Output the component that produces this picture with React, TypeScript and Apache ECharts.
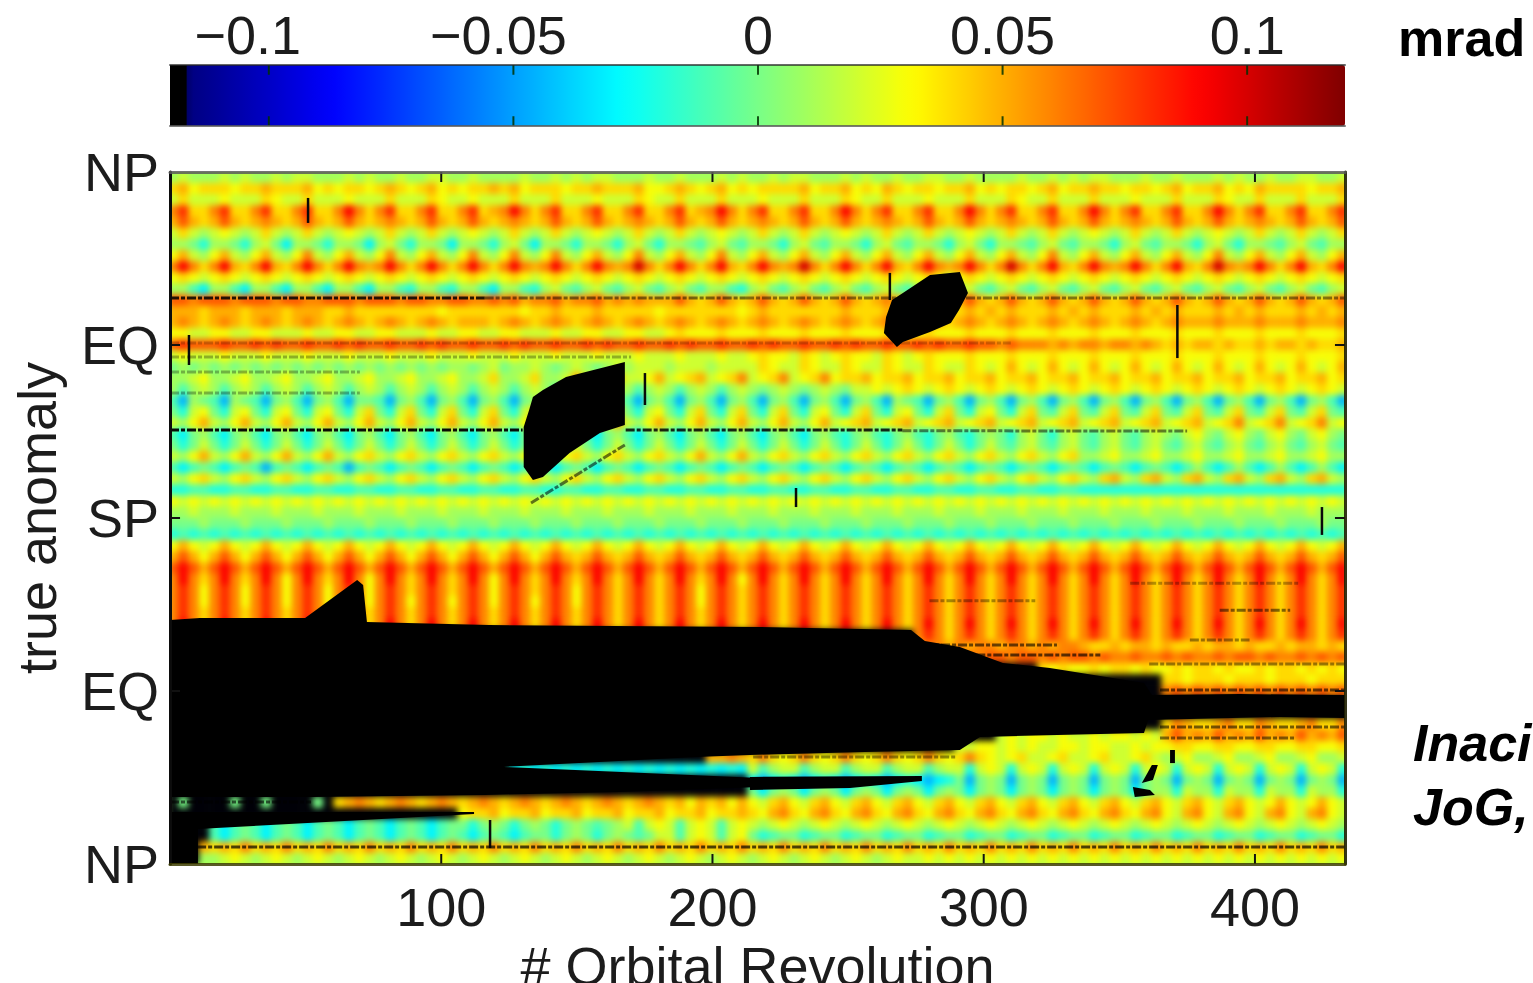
import React, { useEffect, useRef } from "react";
import * as echarts from "echarts";

const FONT = '"Liberation Sans", Arial, sans-serif';
const X_TICKS = [100, 200, 300, 400];
const Y_TICKS = [90, 180, 270];
const Y_LABELS = ["NP", "EQ", "SP", "EQ", "NP"];
const BAR_TICKS = [-0.1, -0.05, 0, 0.05, 0.1];
const BAR_LABELS = ["−0.1", "−0.05", "0", "0.05", "0.1"];
const BAR_UNDER = -0.1168;
const LEVELS: Record<string, number> = {
  ".": -0.12, b: -0.075, c: -0.045, d: -0.03, e: -0.02, f: -0.01, g: 0, h: 0.01, i: 0.02,
  j: 0.03, k: 0.04, l: 0.05, m: 0.06, n: 0.07, o: 0.08, p: 0.09, q: 0.1,
};

// Map: one string per latitude row (top to bottom), one letter per cell.
const ROWS = [
  "hihh hihi hhih iihh hihi hhih hiih hihh hhih hihi hiih hhih hihh hihi hhih iihh hihi hhih hiih hihh hhih hihi hiih hhih hihh hihi hhih hiih hi",
  "kljk kkjk klkk kljk jkkj klkj kljk jkkl kljk kkjk klkk kljj klkj kljk jkkk kljk kljk jlkj kkjk kljk jkkj kljk klkk jkkj kljk kljk jlkk kkjk kl",
  "ikii ijii ikji ikii ijii ikii ikji ijii ikii ikii ijii ikji ikii ikii ijii ikii ikji ikii ijii ikii ikji ikii ikii ijii ikii ikji ikii ikii ik",
  "mokk mokk mokk mokk mpmk mokk mokk mokl mpmk mokk mokk mokk mokl mpmk mokk mokk mpmk mokk mokk mpmk mokk mokk mpmk mokk mokk mpmk mokk mokk mo",
  "lnlk lnlk lmlk lnlk lnlk lmlk lnlk lnlk lmlk lnlk lnlk lmlk lnlk lnlk lmlk lnlk lnlk lmlk lnlk lnlk lmlk lnlk lnlk lmlk lnlk lnlk lmlk lnlk ln",
  "ikih ijih ikih ikih ijih ikih ikih ijih ikih ikih ijih ikih ikih ijih ikih ikih ijih ikih ikih ijih ikih ikih ijih ikih ikih ijih ikih ikih ik",
  "hhge hhge higd hhge hhgd hige hhgd hhge higd hhge hhge hige hhgf higf hhge higf hhge higf hhge hige hhgf higf hhge higf hhge hige hhgf higf hh",
  "jlih jlih jlih jmih jlih jmih jlih jmih jmih jmih jlih jmih jlih jmih jlih jlih jlih jlih jlih jlih jlih jmih jlih jlih jlih jmih jlih jlih jl",
  "mpmk mplk mplk mpmk mpml mpmk mpmk mpmk mpml mpmk mpml mqmk mpmk mplk mpml mqmk mpmk mplk mpml mpmk mqmk mplk mpml mpmk mplk mqml mpmk mplk mp",
  "jkji jkji jkji jkji jkji jkji jkji jkji jkji jkji jkji jkji jkji jkji jkji jkji jkji jkji jkji jkji jkji jkji jkji jkji jkji jkji jkji jkji jk",
  "hhfd hhfd hhfd hhfd hhfd hhfe hhfe hhfd hhfe higf higf higf higf hhfe higf higf higf higf higf higf higf higf higf higf higf higf higf higf hi",
  "nnmn nnmn nnmn nmmn nnmn nnmn nmmn nmmn mnlm mnlm mnlm lmll lnlk lnlk lnlk lnlk lnlk lmlk lnlk lnlk lnlk lnlk lnlk lnlk lnlk lnlk lnlk lnlk ln",
  "lllk lllk lllk lllk klkk kkkk kkjk kkkk kkjk klkk klkk kkkj kkkk kkkj klkk kkkk klkk klkk klkk klkl klkk klkl klkk klkl klkk klkl klkk klkl kl",
  "lmlk lmlk lmlk lmlk lmlk lmlk lmlk lllk lmlk lmlk lmlk lmlk lmlk lmlk lmlk lmlk lmlk lmlk lmlk lmlk lmlk lmlk lmlk lmlk lmll lmll lmll lmll lm",
  "jjii jjii jjii ijii jjii jjii ijii jjii jjii ijii jjii jjii jkjj jkjj jkjj jkjj jkjj jkjj jkjj jkjj jkjj jkjj jkjj jkjj jkjj jkjj jkjj jkjj jk",
  "nonn nonn onon nonn onon nonn onon nonn onon nonn onon nonn onon nonn onon nonn onon nonn onon nonn mnmm mlml mmlm mlml klkl lklk klkl lklk kl",
  "ijii ijii ijii ijii ijii ijii ijii ijii ijii ijii ijii ijii ijii ijii jkjj ikji jkjj ikji jkjj jkjj jkjj jkjj jkjj jkjj jkjj jkjj jkjj jkjj jk",
  "ghgh ghgh ghgh ghgh ghgh ghgh ghgh hghi ghhi hghi hghi hiii hiii hiii ikji ikji ikji ikji ikji ikji jlji jlji jlji jlji jlji jlji jlji jlji jl",
  "hhij hhij hhij hhij hhij hhij hhij hhik hhik hhil iijl iijl ijkl ijkm ijkm ijkm jkkl jkkl jkkl jkkl jkkl jkkl jkkl jkkl jkkl jkkl jkkl jkkl jk",
  "hfhi hfhi hfhi hfhi hfhi hfhi hfhi hfhi hfhi hfhi hfhi hfhi hfhi hfhi hghi hghi hgii jijk jijk jijk jijk jijk jijk jijk jijk jijk jijk jijk ji",
  "fchg fchg fcgh fcgh fcgg fcgh fcgh fcgh fcgh fchh fcgh fcgh fcgh fcgh fcgh fcgh fcgh fchg fcgh fcgh fcgh fcgh fcgh fcgh fcgh fcgh fcgh fcgh fc",
  "geij geij geij geij geik geik geik geik geik geik geik geij geik geik geik geij geik geij geik geij geik gfik gfik gfik gfik gfik gfik gfik gf",
  "ihjl ihjl ihjl ihjl ihjl ihjl ihjl ihjl ihjl ihjl ihjl ihjl ihjl ihjl ihjl ihjl ijkl ijkl ijkl ijkl ijkl ijkl ijkl ijkl ijkl ijkm ijkm ijkm ij",
  "fdgh fdgh fdgh fdgh fdgh fdgh fdgh fdgh fdgh fdgh fdgh fdgh fdgh fdgh fdgh fdgh fegh fegh fegh fegh gehi gehi gfhi gfhi hgij hgij hgij hgij hg",
  "gegi gegi gegi gegi gegi gegi gegi gegi gegi gegi gegi gegi gegi gegi gegi gegi gegi gegi gegi gegi gfhi gfhi gfhi gfhi gfhi gfhi gfhi gfhi gf",
  "ihjl ihjl ihjl ihjl ihjk ihjk ihjk ihjk ihjk ihjk ihjk ihjk ihjl ihjl ihjk ihjk ihjk ihjk ihjk ihjk ihjk ihjk hhij hhij hhij hhij hhij hhij hh",
  "fdfg fdfg fcfg fdfg fcfg fdfg fdfg fdfg fdfg fdfg fdfg fdfg fdfg fdfg fdfg fdfg fdfg fdfg fdfg fdfg fdfg fdfg fdfg fdfg fdfh fdfh fdfh fdfh fd",
  "ihjk ihjk ihjk ihjk ihjk ihjk ihjk ihjk ihjk ihjk ihjk ihjk ihjk ihjk ihjk ihjk ihjk ihjk ihjk ihjk ihjk ihjk ihkl ihkl ihkl ihkl ihkl ihkl ih",
  "eeff eeff eeff eeff eeff eeff eeff eeff eeff eeff eeff eeff eeff eeff eeff eeff eeff eeff eeff eeff eeff eeff eeee eeee eeee eeee eeee eeee ee",
  "jiji jiji jiji jiji jiji jiji jiji jiji jiji jiji jiji jiji jiji jiji jiji jiji jiji jiji jiji jiji jiji jiji jiji jiji jiji jiji jiji jiji ji",
  "hhih hhih hhih hhih hhih hhih hhih hhih hhih hhih hhih hhih hhih hhih hhih hhih hhih hhih hhih hhih hhih hhih hhih hhih hhih hhih hhih hhih hh",
  "gggh gggh gggh gggh gggh gggh gggh gggh gggh gggh gggh gggh gggh gggh gggh gggh gggh gggh gggh gggh gggh gggh gggh gggh gggh gggh gggh gggh gg",
  "efef efef efef efef efef efef efef efef efef efef efef efef efef efef efef efef efef efef efef efef efef efef efef efef efef efef efef efef ef",
  "jlji jlji jlji jlji jlji jlji jlji jlji jlji jlji jlji jlji jlji jlji jlji jlji jlji jlji jlji jlji jlji jlji jlji jlji jlji jlji jlji jlji jl",
  "lnlj lnlj lnlj lnlj lnlj lnlj lnlj lnlj lnlj lnlk lnlk lnlk lnlk lnlk lnlk lnlk lnlk lnlk lnlk lnlk lnlk lnlk lnlk lnlk lnlk lnlk lnlk lnlk ln",
  "npnl npnl npnl npnl npnl npnl npnl npnl npnl npnl npnl npnl npnl npnl npnl npnl npnl npnl npnl npnl npnl npnl npnl npnl npnl npnl npnl npnl np",
  "mpmk mpmk mpmj mpmk mpmj mpmk mpmk mpmj mpmk mpmk mpmk mpmk mpmk mpmj mpmk mpmk mpmk mpmk mpmk mpmk mpmk mpmk mpmk mpmk mpmk mpmk mpmk mpmk mp",
  "momj momj momj momj momj momk momk momj momk momj momk momk momj momk momk momk momk momk momk momk momk momk momk momk momk momk momk momk mo",
  "momj momj momj momj momj momj momj momj momj momj momk momk momj momk momk momk momk momk momk momk momk momk momk momk momk momk momk momk mo",
  "momk momk momk momk momk momk momk momk momk momk momk momk momk momk momk momk momk momk momk momk momk momk momk momk momk momk momk momk mo",
  "mpmk mpmk mpmk mpmk mpmk mpmk mpmk mpmk mpmk mpmk mpmk mpmk mpmk mpmk mpmk mpmk mpmk mpmk mpmk mpmk mpmk mpmk mpmk mpmk mpmk mpmk mpmk mpmk mp",
  ".... .... .... .... .... .... .... .... .... .... .... .... .... .... .... .... .... .... momk momk momk momk momk momk momk momk momk momk mo",
  ".... .... .... .... .... .... .... .... .... .... .... .... .... .... .... .... .... .... lmml mlmm lmml mlmm lkkl kllk lkkl kllk lkkl kllk lk",
  ".... .... .... .... .... .... .... .... .... .... .... .... .... .... .... .... .... .... .... mnmn nmnn mnmn nmnm mnmm nmnm mnmn nmnm mnmn mn",
  ".... .... .... .... .... .... .... .... .... .... .... .... .... .... .... .... .... .... .... .... .... kjkj jkjk kjkj jkjk kjkj jkjk kjkj kj",
  ".... .... .... .... .... .... .... .... .... .... .... .... .... .... .... .... .... .... .... .... .... .... .... .... kkjk kkjk kkjk kkjk kk",
  ".... .... .... .... .... .... .... .... .... .... .... .... .... .... .... .... .... .... .... .... .... .... .... .... mnmn mnmn mnmn mnmn mn",
  ".... .... .... .... .... .... .... .... .... .... .... .... .... .... .... .... .... .... .... .... .... .... .... .... .... .... .... .... ..",
  ".... .... .... .... .... .... .... .... .... .... .... .... .... .... .... .... .... .... .... .... .... .... .... .... .... .... .... .... ..",
  ".... .... .... .... .... .... .... .... .... .... .... .... .... .... .... .... .... .... .... .... .... .... .... .... kmlk klmk kmlk klmk km",
  ".... .... .... .... .... .... .... .... .... .... .... .... .... .... .... .... .... .... .... .... ijij jiji ijij jiji lnlm lnlm lnlm lnlm ln",
  ".... .... .... .... .... .... .... .... .... .... .... .... .... .... .... .... .... .... .... iijj ijij iijj ijji ijij jkkj jkkj jkkj jkkj jk",
  ".... .... .... .... .... .... .... .... .... .... .... .... .... llml kmkj kmkj kmkj kmkj kmkj kmkj ijki ijki ijki ijki hijh hijh hijh hijh hi",
  ".... .... .... .... .... .... .... .... eded eded eded eded eded eded ifhi ifhi ifhi ifhi ifhi ieij ieij ieij ieij ieij ieij ieij ieij ieij ie",
  ".... .... .... .... .... .... .... .... .... .... .... .... .... .... dcde dcde dcde dcde dcde gcgh gcgh gcgh gcgh gcgh gcgh gcgh gcgh gcgh gc",
  ".... .... .... .... .... .... .... .... .... .... .... .... .... .... gdgh gdgh gdgh gdgh gdgh gdgh gdgh gdgh gdgh gdgh heih heih heih heih he",
  ".g.. ..g. .g.. ..g. klml klml klml klml klml klml klml klml kljl kljl jikl jikl jikl jikl jikl jikl jikl jikl jikl jikl jikl jikl jijl jijl ji",
  ".... .... .... .... .... .... .... jkkl jkkl jkkl jkkl jkkl jkkl jkkl kjlm kjlm kjlm kjlm kjlm kjlm kjlm kjlm kjlm kjlm jilm jilm jilm jilm ji",
  ".... fdfg fdfg fdfg fdfg fdfg fdfg gegh gegh gegh gfgh ifij ifij ifij ihij ihij ihij ihij ihij ihij ihij ihij ihij ihij ihij ihij ihij ihij ih",
  ".... fdfg fdfg fdfg fdfg fdfg fdfg fdfg fdfg gegh gegh gfgi ifij ifij gefg gefg gefg gefg gefg gefg gefg gefg gefg gefg gefg gefg gefg gefg ge",
  "...l klkm klkm klkm klkm klkm klkm klkm klkm klkm klkm klkm klkm klkm klkm klkm klkm klkm klkm klkm klkm klkm klkm klkm klkm klkm klkm klkm kl",
  "...h hiji hiji hiji hiji hiji hiji hiji hiji hiji hiji hiji hiji hiji hiji hiji hiji hiji ijij ijij ijij ijij ijij ijij ijij ijij ijij ijij ij",
];

// Black data gaps: outlines as [revolution, true anomaly in degrees].
const GAP_MAIN = [[0,126.9],[11,128],[49.8,128],[69,147.7],[71.2,145.1],[72.6,125.9],[117.6,124.3],[217.5,123.3],[273.2,121.7],[278.3,116],[291.2,112.9],[307.1,104.6],[324.4,102],[340.6,98.3],[359.1,94.2],[362,87.9],[394.5,88.4],[433.2,87.9],[433.2,76],[409.2,76.5],[360.6,74.9],[359.1,68.2],[298.6,66.1],[291.2,59.3],[256.2,58.3],[213.8,56.7],[193.9,55.7],[123.1,50.5],[217.5,44.7],[217.5,40.1],[165.5,37.5],[116.1,35.9],[52.7,34.9],[0,34.9]];
const GAP_WEDGE = [[0,27.1],[112.1,27.1],[112.1,26],[10.3,18.2],[10.3,0],[0,0]];
const GAP_SLANT = [[133.8,243],[137.5,246.6],[146,253.4],[167.7,261.2],[167.7,228.4],[158.5,224.2],[147.3,213.8],[137.5,201.3],[133.8,199.8],[130.4,206.5],[130.4,227.3],[132.4,236.2]];
const GAP_BLOB = [[291.2,308],[294.2,297],[290.9,288.2],[287.9,281.5],[280.2,276.8],[270.2,271.6],[268,269],[263.2,276.3],[264,284.6],[266.2,293.4],[270.2,297],[280.2,306.4]];
const GAP_STREAK = [[213.8,45.3],[277.2,45.8],[277.2,43.2],[250.7,39.5],[213.8,38.5]];
const GAP_BIT_A = [[355,40.1],[361.3,38.5],[363.1,35.9],[355.7,34.9]];
const GAP_BIT_B = [[358.3,42.1],[362,51.5],[364.2,51.5],[362.4,43.7]];
const GAP_BIT_C = [[368.7,59.3],[370.5,59.3],[370.5,52.5],[368.7,52.5]];
const GAPS = [GAP_MAIN, GAP_WEDGE, GAP_SLANT, GAP_BLOB, GAP_STREAK, GAP_BIT_A, GAP_BIT_B, GAP_BIT_C];

// Vertical black marks: [revolution, degrees from, degrees to].
const SPIKES = [[50.9,346.5,333.5],[7,275.2,259.6],[175.1,255.4,238.8],[265.4,307.5,293.4],[371.4,290.8,263.2],[230.8,195.6,185.7],[424.7,185.7,171.2],[118,22.9,8.3]];
// Broken horizontal and slanted streaks: [rev from, degrees, rev to, degrees, opacity].
const STREAKS = [
  [0,294.5,116,294.5,0.85],[116,294.5,212,294.5,0.5],[212,294.5,433,294.5,0.45],
  [0,225.8,130,225.8,0.95],[168,225.8,270,225.8,0.85],[270,225.4,375,225.2,0.5],
  [10,8.8,433,8.8,0.7],[0,263.8,170,263.8,0.3],[0,256,70,256,0.3],[0,245,70,245,0.3],
  [387,132,413,132,0.5],[280,137,319,137,0.35],[354,146,416,146,0.3],[376,116.5,398,116.5,0.4],
  [361,104,433,104,0.4],[0,271,310,271,0.2],[133.1,187.8,167.7,218,0.55],
  [278,113.9,327,113.9,0.6],[291,108.7,343,108.7,0.65],[365,90.5,433,90.5,0.6],
  [365,71.3,433,71.3,0.55],[365,65.5,415,65.5,0.5],[215,55.7,290,55.7,0.4],[0,32.3,52,32.3,0.6],
];

const HEAT = ROWS.flatMap((row, r) =>
  [...row.replace(/ /g, "")].map((c, i) => [i, r, LEVELS[c]])
);
const COLS = Array.from({ length: 114 }, (_, i) => String(i));
const LINES = ROWS.map((_, i) => String(i));

const VMIN = -0.1202;
const VMAX = 0.12;
const XMAX = 433.2;
const clip = (v: number) => Math.round(255 * Math.min(1, Math.max(0, v)));
const PALETTE = ["#000000"].concat(
  Array.from({ length: 63 }, (_, i) => {
    const t = i / 62;
    return `rgb(${clip(1.5 - Math.abs(4 * t - 3))},${clip(1.5 - Math.abs(4 * t - 2))},${clip(1.5 - Math.abs(4 * t - 1))})`;
  })
);
const LABEL_COLOR = "#1c1c1c";

// Tick marks on the four sides: [x from, y from, x to, y to] in axis units.
const PLOT_TICKS = [
  ...X_TICKS.flatMap((v) => [[v, 0, v, 5.2], [v, 360, v, 354.8]]),
  ...Y_TICKS.flatMap((v) => [[0, v, 3.7, v], [XMAX, v, XMAX - 3.7, v]]),
];
const BAR_MARKS = BAR_TICKS.flatMap((v) => [[v, 0, v, 0.16], [v, 1, v, 0.84]]);

const lineItem = (rows: number[][], stroke: string, width: number) => (_: unknown, api: any) => {
  const s = rows[api.value(0)];
  const a = api.coord([s[0], s[1]]);
  const b = api.coord([s[2], s[3]]);
  return { type: "line", shape: { x1: a[0], y1: a[1], x2: b[0], y2: b[1] }, style: { stroke, lineWidth: width } };
};

export default function App() {
  const baseRef = useRef<HTMLDivElement>(null);
  const topRef = useRef<HTMLDivElement>(null);

  useEffect(() => {
    document.body.style.margin = "0";
    document.body.style.overflow = "hidden";
    const base = echarts.init(baseRef.current!, null, { renderer: "svg" });
    base.setOption({
      animation: false,
      grid: { left: 0, right: 0, top: 0, bottom: 0, outerBoundsMode: "none" },
      xAxis: { type: "category", data: COLS, show: false },
      yAxis: { type: "category", data: LINES, inverse: true, show: false },
      visualMap: { show: false, min: VMIN, max: VMAX, inRange: { color: PALETTE } },
      series: [{ type: "heatmap", data: HEAT, progressive: 0, itemStyle: { borderWidth: 0 } }],
    });

    const top = echarts.init(topRef.current!, null, { renderer: "svg" });
    const common = { axisTick: { show: false }, splitLine: { show: false }, z: 20 };
    const edge = (color: string, width: number) => ({ axisLine: { onZero: false, lineStyle: { color, width } } });
    const big = { fontFamily: FONT, fontSize: 54, color: LABEL_COLOR };
    top.setOption({
      animation: false,
      grid: [
        { left: 170, top: 172, width: 1175, height: 692, outerBoundsMode: "none" },
        { left: 170, top: 65, width: 1175, height: 61, outerBoundsMode: "none" },
      ],
      xAxis: [
        {
          ...common, ...edge("rgba(60,60,0,0.85)", 3), type: "value", gridIndex: 0, position: "bottom", min: 0, max: XMAX, interval: 100,
          axisLabel: { ...big, margin: 16, showMinLabel: false, showMaxLabel: false, formatter: (v: number) => (X_TICKS.includes(v) ? String(v) : "") },
          name: "# Orbital Revolution", nameLocation: "middle", nameGap: 73,
          nameTextStyle: { ...big, lineHeight: 42 },
        },
        { ...common, ...edge("rgba(90,90,90,0.85)", 3), type: "value", gridIndex: 0, position: "top", min: 0, max: XMAX, interval: 100, axisLabel: { show: false } },
        {
          ...common, ...edge("rgba(40,40,40,0.7)", 2), type: "value", gridIndex: 1, position: "top", min: VMIN, max: VMAX,
          axisLabel: {
            customValues: BAR_TICKS, margin: 3, ...big,
            formatter: (v: number) => {
              const i = BAR_TICKS.findIndex((t) => Math.abs(t - v) < 1e-6);
              const key = i === 0 ? "a" : i === 1 ? "b" : "c";
              return `{${key}|${BAR_LABELS[i]}}`;
            },
            rich: {
              a: { ...big, padding: [0, 42, 0, 0] },
              b: { ...big, padding: [0, 30, 0, 0] },
              c: { ...big },
            },
          },
        },
        {
          ...common, ...edge("rgba(90,90,90,0.8)", 2), type: "value", gridIndex: 1, position: "bottom", min: VMIN, max: VMAX,
          axisLabel: { show: false },
        },
      ],
      yAxis: [
        {
          ...common, ...edge("#0c0c0c", 3), type: "value", gridIndex: 0, position: "left", min: 0, max: 360, interval: 90,
          axisLabel: { ...big, margin: 11, formatter: (v: number) => Y_LABELS[v / 90] },
          name: "true anomaly", nameLocation: "middle", nameGap: 108, nameRotate: 90,
          nameTextStyle: { ...big, lineHeight: 50 },
        },
        { ...common, ...edge("rgba(30,30,0,0.9)", 3), type: "value", gridIndex: 0, position: "right", min: 0, max: 360, interval: 90, axisLabel: { show: false } },
        { type: "value", gridIndex: 1, show: false, min: 0, max: 1 },
      ],
      visualMap: {
        type: "continuous", show: true, orient: "horizontal", seriesIndex: [], min: VMIN, max: VMAX,
        left: 170, top: 65, itemWidth: 61, itemHeight: 1175, padding: 0, calculable: false, text: ["", ""], z: 1,
        inRange: { color: PALETTE },
      },
      series: [
        {
          type: "custom", xAxisIndex: 0, yAxisIndex: 0, clip: true, z: 3,
          data: GAPS.map((_, i) => [i, 0]),
          renderItem: (_: unknown, api: any) => ({
            type: "polygon",
            shape: { points: GAPS[api.value(0)].map((p) => api.coord(p)) },
            style: { fill: "#000" },
          }),
        },
        {
          type: "custom", xAxisIndex: 0, yAxisIndex: 0, clip: true, z: 4,
          data: SPIKES.map((_, i) => [i, 0]),
          renderItem: (_: unknown, api: any) => {
            const s = SPIKES[api.value(0)];
            const a = api.coord([s[0], s[1]]);
            const b = api.coord([s[0], s[2]]);
            return { type: "line", shape: { x1: a[0], y1: a[1], x2: b[0], y2: b[1] }, style: { stroke: "#0a0a0a", lineWidth: 2.5 } };
          },
        },
        {
          type: "custom", xAxisIndex: 0, yAxisIndex: 0, clip: true, z: 4,
          data: STREAKS.map((_, i) => [i, 0]),
          renderItem: (_: unknown, api: any) => {
            const s = STREAKS[api.value(0)];
            const a = api.coord([s[0], s[1]]);
            const b = api.coord([s[2], s[3]]);
            return {
              type: "line",
              shape: { x1: a[0], y1: a[1], x2: b[0], y2: b[1] },
              style: { stroke: "#000", lineWidth: 3, opacity: s[4], lineDash: [9, 2, 4, 2] },
            };
          },
        },
        {
          type: "custom", xAxisIndex: 0, yAxisIndex: 0, clip: false, z: 5,
          data: PLOT_TICKS.map((_, i) => [i, 0]),
          renderItem: lineItem(PLOT_TICKS, "#111", 2),
        },
        {
          type: "custom", xAxisIndex: 2, yAxisIndex: 2, clip: false, z: 5,
          data: BAR_MARKS.map((_, i) => [i, 0]),
          renderItem: lineItem(BAR_MARKS, "rgba(0,50,0,0.85)", 2),
        },
        {
          type: "custom", xAxisIndex: 2, yAxisIndex: 2, clip: false, z: 5,
          data: [[0, 0]],
          renderItem: (_: unknown, api: any) => ({
            type: "polygon",
            shape: { points: [[VMIN, 0], [BAR_UNDER, 0], [BAR_UNDER, 1], [VMIN, 1]].map((p) => api.coord(p)) },
            style: { fill: "#000" },
          }),
        },
      ],
      graphic: [
        { type: "text", x: 1398, y: 38, style: { text: "mrad", font: `bold 52px ${FONT}`, fill: "#000", verticalAlign: "middle" } },
        { type: "text", x: 1413, y: 743, style: { text: "Inaci", font: `italic bold 52px ${FONT}`, fill: "#000", verticalAlign: "middle" } },
        { type: "text", x: 1413, y: 807, style: { text: "JoG,", font: `italic bold 52px ${FONT}`, fill: "#000", verticalAlign: "middle" } },
      ],
    });
    return () => {
      base.dispose();
      top.dispose();
    };
  }, []);

  return (
    <div style={{ position: "absolute", left: 0, top: 0, width: 1533, height: 983, overflow: "hidden", background: "#fff" }}>
      <div style={{ position: "absolute", left: 170, top: 172, width: 1175, height: 692, overflow: "hidden", background: "#a8ff58" }}>
        <div ref={baseRef} style={{ position: "absolute", left: -2.5, top: 0, width: 1179.9, height: 692, filter: "blur(3px)" }} />
      </div>
      <div ref={topRef} style={{ position: "absolute", left: 0, top: 0, width: 1533, height: 983, filter: "blur(0.6px)" }} />
    </div>
  );
}
